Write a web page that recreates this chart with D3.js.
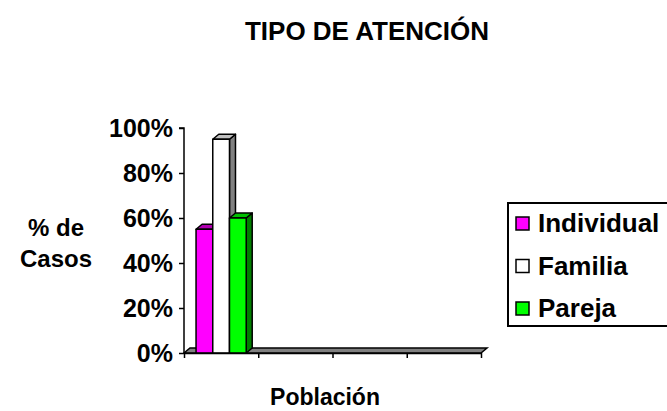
<!DOCTYPE html>
<html>
<head>
<meta charset="utf-8">
<script src="https://cdn.jsdelivr.net/npm/d3@7"></script>
<style>
  body { margin: 0; background: #fff; }
  svg { display: block; font-family: "Liberation Sans", Arial, sans-serif; font-weight: bold; }
</style>
</head>
<body>
<svg id="chart" width="667" height="411"></svg>
<script>
// ---- data ----
const categories = ["", "", "", ""];
const seriesNames = ["Individual", "Familia", "Pareja"];
const individual = [55, null, null, null];
const familia = [95, null, null, null];
const pareja = [60, null, null, null];
const yTicks = [0, 20, 40, 60, 80, 100];
const title = "TIPO DE ATENCIÓN";
const xTitle = "Población";
const yTitle = ["% de", "Casos"];

const seriesValues = [individual, familia, pareja];
const colors = { front: ["#FF00FF", "#FFFFFF", "#00FF00"],
                 top:   ["#B000B0", "#C0C0C0", "#00C000"],
                 side:  ["#800080", "#808080", "#008000"] };

const svg = d3.select("#chart");
const left = 184, right = 481, bottom = 353, topY = 128;
const dx = 6, dy = -5;

const x0 = d3.scaleBand().domain(d3.range(categories.length)).range([left, right]).paddingInner(0).paddingOuter(0);
const x1 = d3.scaleBand().domain(d3.range(seriesNames.length)).range([0, x0.bandwidth()]).paddingInner(0).paddingOuter(0.72);
const y = d3.scaleLinear().domain([0, 100]).range([bottom, topY]);

// title
svg.append("text").attr("x", 367).attr("y", 40).attr("text-anchor", "middle")
  .attr("font-size", 26).text(title);

// floor
svg.append("path")
  .attr("d", `M${left},${y(0)} L${right},${y(0)} L${right+dx},${y(0)+dy} L${left+dx},${y(0)+dy} Z`)
  .attr("fill", "#808080").attr("stroke", "#000").attr("stroke-width", 1.5);

// bars
seriesValues.forEach((vals, si) => {
  vals.forEach((v, ci) => {
    if (v == null) return;
    const xa = x0(ci) + x1(si), w = x1.bandwidth();
    const yt = y(v), yb = y(0);
    const g = svg.append("g").attr("stroke", "#000").attr("stroke-width", 1.5).attr("stroke-linejoin", "round");
    g.append("path").attr("d", `M${xa+w},${yt} L${xa+w+dx},${yt+dy} L${xa+w+dx},${yb+dy} L${xa+w},${yb} Z`).attr("fill", colors.side[si]);
    g.append("path").attr("d", `M${xa},${yt} L${xa+dx},${yt+dy} L${xa+w+dx},${yt+dy} L${xa+w},${yt} Z`).attr("fill", colors.top[si]);
    g.append("rect").attr("x", xa).attr("y", yt).attr("width", w).attr("height", yb - yt).attr("fill", colors.front[si]);
  });
});

// y axis
const yAxis = d3.axisLeft(y).tickValues(yTicks).tickFormat(d => d + "%").tickSize(5).tickPadding(6);
const ya = svg.append("g").attr("transform", `translate(${left},0)`).call(yAxis);
ya.selectAll("path, line").attr("stroke", "#000").attr("stroke-width", 1.5);
ya.select(".domain").attr("d", `M-5,${topY}H0V${bottom}`);
ya.selectAll("text").attr("font-size", 25).attr("font-weight", "bold").attr("fill", "#000")
  .attr("font-family", "Liberation Sans, Arial, sans-serif");

// x axis ticks at category boundaries
const xb = d3.scaleLinear().domain([0, categories.length]).range([left, right]);
const xAxis = d3.axisBottom(xb).ticks(categories.length).tickFormat(() => "").tickSize(5).tickSizeOuter(0);
const xa = svg.append("g").attr("transform", `translate(0,${bottom})`).call(xAxis);
xa.selectAll("path, line").attr("stroke", "#000").attr("stroke-width", 1.5);

// axis titles
svg.append("text").attr("x", 325).attr("y", 405).attr("text-anchor", "middle").attr("font-size", 23).text(xTitle);
svg.append("text").attr("x", 56).attr("text-anchor", "middle").attr("font-size", 24)
  .selectAll("tspan").data(yTitle).join("tspan")
  .attr("x", 56).attr("y", (d, i) => 236 + i * 31).text(d => d);

// legend
const lg = svg.append("g");
lg.append("rect").attr("x", 508).attr("y", 203).attr("width", 200).attr("height", 123)
  .attr("fill", "#fff").attr("stroke", "#000").attr("stroke-width", 2);
seriesNames.forEach((name, i) => {
  const cy = 223 + i * 42.5;
  lg.append("rect").attr("x", 516).attr("y", cy - 6).attr("width", 13).attr("height", 13)
    .attr("fill", colors.front[i]).attr("stroke", "#000").attr("stroke-width", 1.5);
  lg.append("text").attr("x", 538).attr("y", cy + 9).attr("font-size", 26).text(name);
});
</script>
</body>
</html>
